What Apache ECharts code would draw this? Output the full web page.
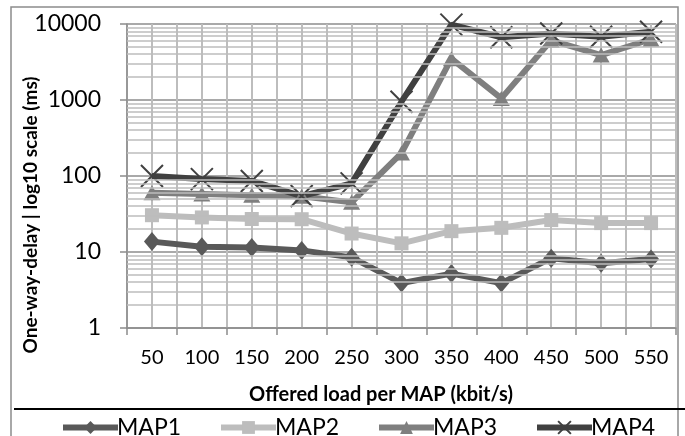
<!DOCTYPE html>
<html><head><meta charset="utf-8">
<script src="https://cdn.jsdelivr.net/npm/echarts@6/dist/echarts.min.js"></script>
<style>html,body{margin:0;padding:0;background:#fff}#c{width:685px;height:436px}</style>
</head><body><div id="c"></div>
<script>
const categories = ['50','100','150','200','250','300','350','400','450','500','550'];
const map1 = [13.7, 11.7, 11.5, 10.5, 8.5, 3.9, 5.2, 3.9, 8.3, 7.1, 8.1];
const map2 = [30.5, 28.5, 27.2, 27, 17.5, 13, 18.8, 20.8, 26.3, 24, 24];
const map3 = [60, 58, 56, 54, 45, 200, 3500, 1050, 6100, 3900, 6300];
const map4 = [100, 91, 86, 54.5, 80, 950, 9800, 6700, 7500, 6800, 7900];
const seriesNames = ['MAP1', 'MAP2', 'MAP3', 'MAP4'];
const minorGrid = [2,3,4,5,6,7,8,9,20,30,40,50,60,70,80,90,200,300,400,500,600,700,800,900,2000,3000,4000,5000,6000,7000,8000,9000];
const yTicks = [1, 10, 100, 1000, 10000];

const chart = echarts.init(document.getElementById('c'));
const font = 'Lato, "Open Sans", sans-serif';
const xPath = 'path://M0,0L10,10M10,0L0,10';
function ser(name, data, color, symbol, size, extra) {
  return Object.assign({
    name, type: 'line', data, xAxisIndex: 0, yAxisIndex: 0,
    symbol, symbolSize: size, showSymbol: true,
    lineStyle: {color, width: 6},
    itemStyle: {color},
    z: 3, animation: false
  }, extra || {});
}
chart.setOption({
  animation: false,
  textStyle: {fontFamily: font},
  grid: {left: 127, right: 9, top: 24, bottom: 108},
  xAxis: [{
    type: 'category', data: categories, boundaryGap: true,
    axisLine: {onZero: false, lineStyle: {color: '#8c8c8c', width: 1.5}},
    axisTick: {show: true, length: 7, lineStyle: {color: '#8c8c8c', width: 1.5}},
    axisLabel: {color: '#000', fontSize: 20, margin: 20, fontFamily: font},
    splitLine: {show: false}
  }, {
    type: 'value', min: 0, max: 22, interval: 1, position: 'top',
    axisLine: {show: false}, axisTick: {show: false}, axisLabel: {show: false},
    splitLine: {show: true, lineStyle: {color: '#bdbdbd', width: 2}}
  }],
  yAxis: {
    type: 'log', logBase: 10, min: 1, max: 10000,
    axisLine: {show: true, lineStyle: {color: '#8c8c8c', width: 1.5}},
    axisTick: {show: true, length: 7, lineStyle: {color: '#8c8c8c', width: 1.5}},
    axisLabel: {color: '#000', fontSize: 23, margin: 26, fontFamily: font,
      formatter: v => yTicks.includes(Math.round(v)) ? String(Math.round(v)) : ''},
    splitLine: {show: true, lineStyle: {color: '#8c8c8c', width: 1.5}}
  },
  legend: seriesNames.map((n, i) => ({
    left: 55 + i * 158, top: 411, itemWidth: 55, itemHeight: 16, itemGap: 0,
    lineStyle: {width: 6},
    textStyle: {fontSize: 23, color: '#000', fontFamily: font, padding: [0,0,0,-6]},
    data: [n]
  })),
  series: [
    {type: 'line', data: [], xAxisIndex: 0, yAxisIndex: 0, z: 1, silent: true,
     markLine: {silent: true, symbol: ['none','none'], label: {show: false},
       lineStyle: {color: '#bdbdbd', width: 1.5, type: 'solid'},
       animation: false,
       data: minorGrid.map(v => ({yAxis: v}))}},
    ser('MAP1', map1, '#595959', 'diamond', [16, 19]),
    ser('MAP2', map2, '#bdbdbd', 'rect', 14),
    ser('MAP3', map3, '#7f7f7f', 'triangle', [17, 15]),
    ser('MAP4', map4, '#404040', xPath, 22, {itemStyle: {color: '#404040', borderColor: '#404040', borderWidth: 2}})
  ],
  graphic: [
    {type: 'rect', shape: {x: 11, y: 7, width: 667, height: 450}, style: {fill: 'none', stroke: '#8c8c8c', lineWidth: 1.5}, z: -1},
    {type: 'line', shape: {x1: 14, y1: 409, x2: 685, y2: 409}, style: {stroke: '#000', lineWidth: 2}},
    {type: 'text', x: 381, y: 395, style: {text: 'Offered load per MAP (kbit/s)', font: 'bold 20px ' + font, fill: '#000', textAlign: 'center', textVerticalAlign: 'middle'}},
    {type: 'text', x: 31, y: 215, rotation: Math.PI / 2, style: {text: 'One-way-delay | log10 scale (ms)', font: 'bold 19px ' + font, fill: '#000', textAlign: 'center', textVerticalAlign: 'middle'}}
  ]
});
</script>
</body></html>
